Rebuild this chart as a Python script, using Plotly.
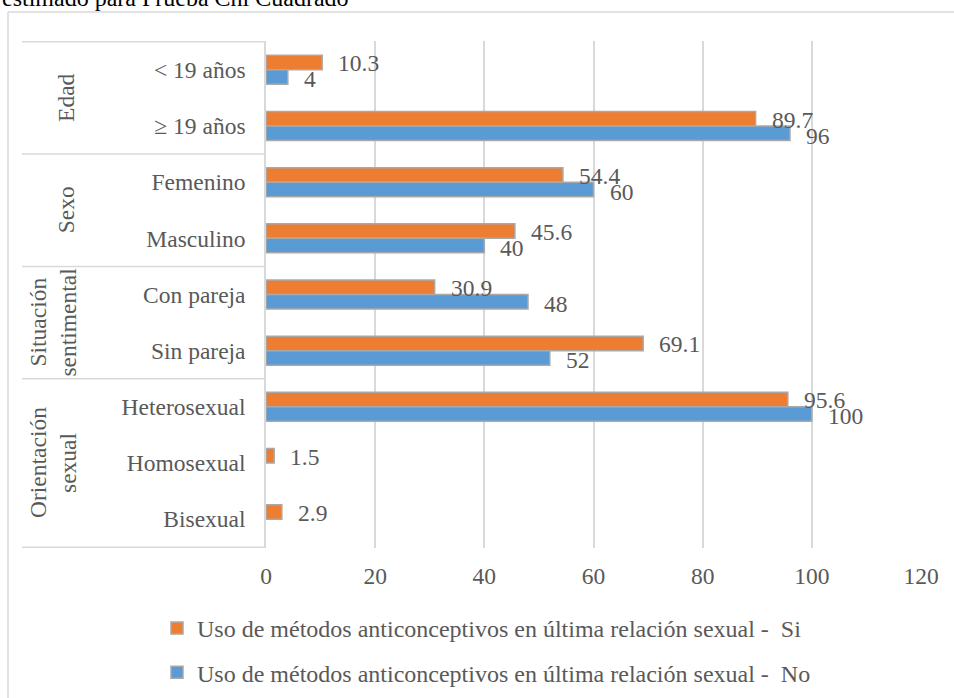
import plotly.graph_objects as go

# ---- data ----
groups = ["Edad", "Sexo", "Situación sentimental", "Orientación sexual"]
group_lines = [["Edad"], ["Sexo"], ["Situación", "sentimental"], ["Orientación", "sexual"]]
group_sizes = [2, 2, 2, 3]
categories = ["< 19 años", "≥ 19 años", "Femenino", "Masculino",
              "Con pareja", "Sin pareja", "Heterosexual", "Homosexual", "Bisexual"]
si_values = [10.3, 89.7, 54.4, 45.6, 30.9, 69.1, 95.6, 1.5, 2.9]
no_values = [4, 96, 60, 40, 48, 52, 100, None, None]
series_names = ["Uso de métodos anticonceptivos en última relación sexual -\u00a0 Si",
                "Uso de métodos anticonceptivos en última relación sexual -\u00a0 No"]
x_ticks = [0, 20, 40, 60, 80, 100, 120]
title_text = "estimado para Prueba Chi Cuadrado"

# ---- layout constants ----
W, H = 954, 698
L, R, T, B = 266, 33, 41, 150
PW, PH = W - L - R, H - T - B
FONT = "Liberation Serif, Times New Roman, serif"
GRAY = "#595959"
LINE = "#d9d9d9"
FS = 23.5


def px_x(px):
    return (px - L) / PW


def px_y(py):
    return (H - B - py) / PH


fig = go.Figure()
fig.add_trace(go.Bar(
    y=categories, x=si_values, orientation="h", name=series_names[0],
    marker=dict(color="#ED7D31", line=dict(color="#A9A9A9", width=1.5)),
    legendgroup="si"))
fig.add_trace(go.Bar(
    y=categories, x=no_values, orientation="h", name=series_names[1],
    marker=dict(color="#5B9BD5", line=dict(color="#A9A9A9", width=1.5)),
    legendgroup="no"))

annotations = []
# data labels
for vals, ysh in ((si_values, 6.5), (no_values, -9.5)):
    for cat, v in zip(categories, vals):
        if v is None:
            continue
        annotations.append(dict(
            x=v, y=cat, xref="x", yref="y", text=f"{v:g}", showarrow=False,
            xanchor="left", yanchor="middle", xshift=14, yshift=ysh,
            font=dict(family=FONT, size=FS, color=GRAY)))

# group labels and table lines
shapes = []
start = 0
bounds = [-0.5]
for lines, n in zip(group_lines, group_sizes):
    center = start + (n - 1) / 2
    xs = [66] if len(lines) == 1 else [38, 68]
    for txt, xp in zip(lines, xs):
        annotations.append(dict(
            x=px_x(xp), y=center, xref="paper", yref="y", text=txt,
            showarrow=False, textangle=-90, xanchor="center", yanchor="middle",
            font=dict(family=FONT, size=FS, color=GRAY)))
    start += n
    bounds.append(start - 0.5)

for b in bounds:
    shapes.append(dict(type="line", xref="paper", yref="y",
                       x0=px_x(22), x1=0, y0=b, y1=b,
                       line=dict(color=LINE, width=1.5)))

# chart frame (Excel chart border)
shapes.append(dict(type="line", xref="paper", yref="paper",
                   x0=px_x(8), x1=px_x(960), y0=px_y(12), y1=px_y(12),
                   line=dict(color=LINE, width=1.5)))
shapes.append(dict(type="line", xref="paper", yref="paper",
                   x0=px_x(8), x1=px_x(8), y0=px_y(12), y1=px_y(705),
                   line=dict(color=LINE, width=1.5)))

# cut-off title text
annotations.append(dict(
    x=px_x(0), y=px_y(13), xref="paper", yref="paper", text=title_text,
    showarrow=False, xanchor="left", yanchor="bottom",
    font=dict(family=FONT, size=24, color="#000000")))

fig.update_layout(
    width=W, height=H,
    margin=dict(l=L, r=R, t=T, b=B, autoexpand=False),
    paper_bgcolor="white", plot_bgcolor="white",
    barmode="group", bargap=0.485, bargroupgap=0,
    font=dict(family=FONT, size=FS, color=GRAY),
    xaxis=dict(range=[0, 120], tickvals=x_ticks, showgrid=True, gridcolor=LINE,
               gridwidth=1.5, zeroline=False, showline=False, ticks="outside",
               ticklen=7, tickcolor="rgba(0,0,0,0)",
               tickfont=dict(family=FONT, size=FS, color=GRAY)),
    yaxis=dict(type="category", autorange="reversed", showgrid=False,
               showline=True, linecolor=LINE, linewidth=1.5, zeroline=False,
               ticks="outside", ticklen=14, tickcolor="rgba(0,0,0,0)",
               tickfont=dict(family=FONT, size=FS, color=GRAY)),
    legend=dict(x=px_x(157), xanchor="left", y=px_y(606), yanchor="top",
                orientation="v", tracegroupgap=10, bgcolor="rgba(0,0,0,0)",
                font=dict(family=FONT, size=24, color=GRAY)),
    annotations=annotations, shapes=shapes,
)

fig.write_html("out.html",
               config={"displayModeBar": False},
               post_script="document.body.style.margin='0';document.body.style.overflow='hidden';")
